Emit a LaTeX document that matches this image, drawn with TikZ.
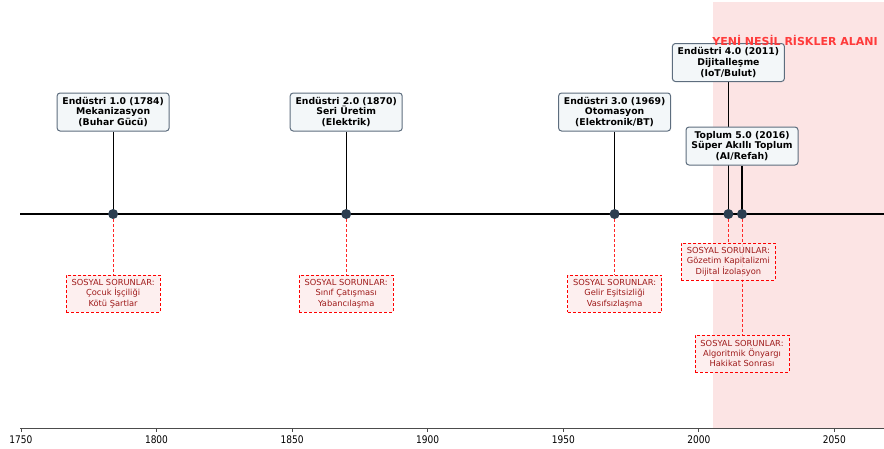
\documentclass[tikz,border=0pt]{standalone}
\usepackage{fontspec}
\setmainfont{DejaVu Sans}
\newfontfamily\tickfont[FakeStretch=0.86]{DejaVu Sans}
\definecolor{shadecol}{HTML}{FCE4E4}
\definecolor{boxfill}{HTML}{F3F7F9}
\definecolor{boxedge}{HTML}{5D6D7E}
\definecolor{dotcol}{HTML}{2C3E50}
\definecolor{riskred}{HTML}{FF3B3B}
\definecolor{socfill}{HTML}{FDEBEB}
\definecolor{soctext}{HTML}{9E1A1A}
\pgfdeclarelayer{bgzero}
\pgfdeclarelayer{bgone}
\pgfsetlayers{bgzero,bgone,main}
\tikzset{
  era/.style={draw=boxedge, fill=boxfill, line width=1pt, rounded corners=3pt,
    align=center, font=\bfseries\fontsize{9.3}{10.9}\selectfont,
    minimum width=112pt, minimum height=38pt, inner sep=2pt},
  social/.style={draw=red, fill=socfill, fill opacity=0.8, text opacity=1,
    line width=1pt, densely dashed, align=center, text=soctext,
    font=\fontsize{8.3}{10.3}\selectfont, minimum width=94pt, minimum height=37pt, inner sep=2pt},
  evdot/.style={circle, fill=dotcol, minimum size=10pt, inner sep=0pt},
  stem/.style={black, line width=1.2pt},
  redlink/.style={red!85!white, line width=1pt, dash pattern=on 3pt off 2pt},
  ticklab/.style={font=\tickfont\fontsize{10.5}{12}\selectfont, anchor=north, inner sep=0pt}
}
\begin{document}
\begin{tikzpicture}[x=1pt,y=-1pt]
\useasboundingbox (0,0) rectangle (884,448);
% dots
\node[evdot] (d1) at (113.1,214) {};
\node[evdot] (d2) at (346.2,214) {};
\node[evdot] (d3) at (614.6,214) {};
\node[evdot] (d4) at (728.4,214) {};
\node[evdot] (d5) at (742.0,214) {};
% era boxes
\node[era] (e1) at (113.1,112) {Endüstri 1.0 (1784)\\Mekanizasyon\\(Buhar Gücü)};
\node[era] (e2) at (346.2,112) {Endüstri 2.0 (1870)\\Seri Üretim\\(Elektrik)};
\node[era] (e3) at (614.6,112) {Endüstri 3.0 (1969)\\Otomasyon\\(Elektronik/BT)};
\node[era] (e4) at (728.4,62.5) {Endüstri 4.0 (2011)\\Dijitalleşme\\(IoT/Bulut)};
\node[era] (e5) at (742.0,146) {Toplum 5.0 (2016)\\Süper Akıllı Toplum\\(AI/Refah)};
% social boxes
\node[social] (s1) at (113.1,293.5) {SOSYAL SORUNLAR:\\Çocuk İşçiliği\\Kötü Şartlar};
\node[social] (s2) at (346.2,293.5) {SOSYAL SORUNLAR:\\Sınıf Çatışması\\Yabancılaşma};
\node[social] (s3) at (614.6,293.5) {SOSYAL SORUNLAR:\\Gelir Eşitsizliği\\Vasıfsızlaşma};
\node[social] (s4) at (728.4,261.5) {SOSYAL SORUNLAR:\\Gözetim Kapitalizmi\\Dijital İzolasyon};
\node[social] (s5) at (742.0,353.5) {SOSYAL SORUNLAR:\\Algoritmik Önyargı\\Hakikat Sonrası};
% axis and shade
\coordinate (axl) at (20,428);
\coordinate (axr) at (884,428);
\coordinate (ml) at (20,214);
\coordinate (mr) at (884,214);
\begin{pgfonlayer}{bgzero}
  \fill[shadecol] (713,2) rectangle (884,428);
  \draw[black!70, line width=0.9pt] (axl) -- (axr);
  \foreach \yr/\xx in {1750/20.9,1800/156.5,1850/292.1,1900/427.7,1950/563.3,2000/698.8,2050/834.4}{
    \draw[black!70, line width=0.8pt] (\xx,428) -- (\xx,432);
    \node[ticklab] at (\xx,435.5) {\yr};
  }
\end{pgfonlayer}
\begin{pgfonlayer}{bgone}
  \draw[black, line width=2.2pt] (ml) -- (mr);
  \draw[stem] (e1.south) -- (d1.center);
  \draw[stem] (e2.south) -- (d2.center);
  \draw[stem] (e3.south) -- (d3.center);
  \draw[stem] (e4.south) -- (d4.center);
  \draw[stem] (e5.south) -- (d5.center);
  \draw[redlink] (d1.center) -- (s1.north);
  \draw[redlink] (d2.center) -- (s2.north);
  \draw[redlink] (d3.center) -- (s3.north);
  \draw[redlink] (d4.center) -- (s4.north);
  \draw[redlink] (d5.center) -- (s5.north);
\end{pgfonlayer}
\node[text=riskred, font=\bfseries\fontsize{11}{13}\selectfont, inner sep=0pt] (title) at (795,40.5) {YENİ NESİL RİSKLER ALANI};
\end{tikzpicture}
\end{document}
